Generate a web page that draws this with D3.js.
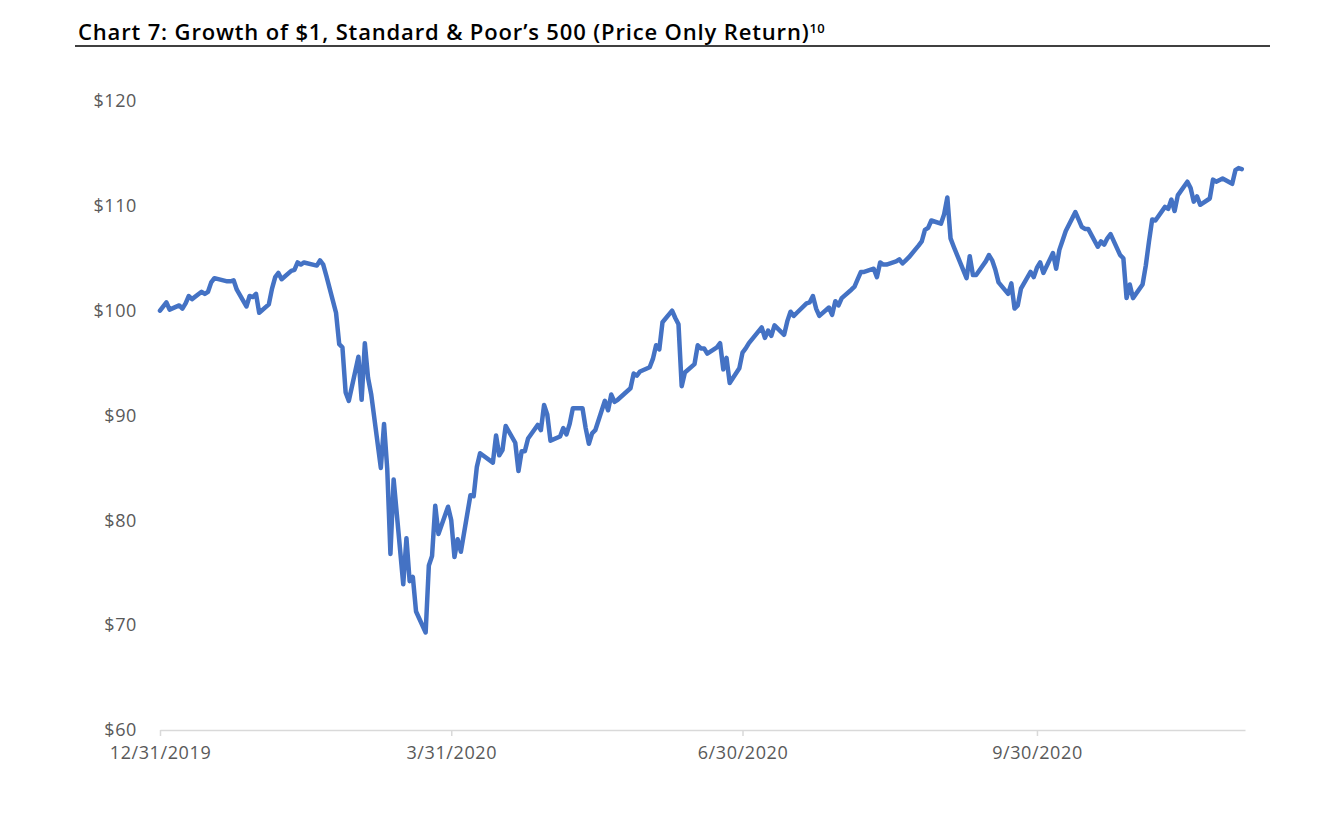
<!DOCTYPE html>
<meta charset="utf-8">
<script src="https://d3js.org/d3.v7.min.js"></script>

<style>
    body {
        margin: 0;
        background: #fff;
    }

    .title {
        font-family: "Open Sans", sans-serif;
        font-weight: 600;
        font-size: 22px;
        letter-spacing: 0.85px;
        fill: #000;
    }

    .tickText {
        font-family: "Open Sans", sans-serif;
        font-size: 18px;
        letter-spacing: 0.6px;
        fill: #595959;
    }
</style>

<svg id="chart" width="1342" height="813"></svg>

<script>
    // trading days and growth of $100 (S&P 500 price only)
    const dates = [
        "2019-12-31", "2020-01-02", "2020-01-03", "2020-01-06", "2020-01-07", "2020-01-08", "2020-01-09", "2020-01-10",
        "2020-01-13", "2020-01-14", "2020-01-15", "2020-01-16", "2020-01-17", "2020-01-21", "2020-01-22", "2020-01-23",
        "2020-01-24", "2020-01-27", "2020-01-28", "2020-01-29", "2020-01-30", "2020-01-31",
        "2020-02-03", "2020-02-04", "2020-02-05", "2020-02-06", "2020-02-07", "2020-02-10", "2020-02-11", "2020-02-12",
        "2020-02-13", "2020-02-14", "2020-02-18", "2020-02-19", "2020-02-20", "2020-02-21", "2020-02-24", "2020-02-25",
        "2020-02-26", "2020-02-27", "2020-02-28",
        "2020-03-02", "2020-03-03", "2020-03-04", "2020-03-05", "2020-03-06", "2020-03-09", "2020-03-10", "2020-03-11",
        "2020-03-12", "2020-03-13", "2020-03-16", "2020-03-17", "2020-03-18", "2020-03-19", "2020-03-20", "2020-03-23",
        "2020-03-24", "2020-03-25", "2020-03-26", "2020-03-27", "2020-03-30", "2020-03-31",
        "2020-04-01", "2020-04-02", "2020-04-03", "2020-04-06", "2020-04-07", "2020-04-08", "2020-04-09", "2020-04-13",
        "2020-04-14", "2020-04-15", "2020-04-16", "2020-04-17", "2020-04-20", "2020-04-21", "2020-04-22", "2020-04-23",
        "2020-04-24", "2020-04-27", "2020-04-28", "2020-04-29", "2020-04-30",
        "2020-05-01", "2020-05-04", "2020-05-05", "2020-05-06", "2020-05-07", "2020-05-08", "2020-05-11", "2020-05-12",
        "2020-05-13", "2020-05-14", "2020-05-15", "2020-05-18", "2020-05-19", "2020-05-20", "2020-05-21", "2020-05-22",
        "2020-05-26", "2020-05-27", "2020-05-28", "2020-05-29",
        "2020-06-01", "2020-06-02", "2020-06-03", "2020-06-04", "2020-06-05", "2020-06-08", "2020-06-09", "2020-06-10",
        "2020-06-11", "2020-06-12", "2020-06-15", "2020-06-16", "2020-06-17", "2020-06-18", "2020-06-19", "2020-06-22",
        "2020-06-23", "2020-06-24", "2020-06-25", "2020-06-26", "2020-06-29", "2020-06-30",
        "2020-07-01", "2020-07-02", "2020-07-06", "2020-07-07", "2020-07-08", "2020-07-09", "2020-07-10", "2020-07-13",
        "2020-07-14", "2020-07-15", "2020-07-16", "2020-07-17", "2020-07-20", "2020-07-21", "2020-07-22", "2020-07-23",
        "2020-07-24", "2020-07-27", "2020-07-28", "2020-07-29", "2020-07-30", "2020-07-31",
        "2020-08-03", "2020-08-04", "2020-08-05", "2020-08-06", "2020-08-07", "2020-08-10", "2020-08-11", "2020-08-12",
        "2020-08-13", "2020-08-14", "2020-08-17", "2020-08-18", "2020-08-19", "2020-08-20", "2020-08-21", "2020-08-24",
        "2020-08-25", "2020-08-26", "2020-08-27", "2020-08-28", "2020-08-31",
        "2020-09-01", "2020-09-02", "2020-09-03", "2020-09-04", "2020-09-08", "2020-09-09", "2020-09-10", "2020-09-11",
        "2020-09-14", "2020-09-15", "2020-09-16", "2020-09-17", "2020-09-18", "2020-09-21", "2020-09-22", "2020-09-23",
        "2020-09-24", "2020-09-25", "2020-09-28", "2020-09-29", "2020-09-30",
        "2020-10-01", "2020-10-02", "2020-10-05", "2020-10-06", "2020-10-07", "2020-10-08", "2020-10-09", "2020-10-12",
        "2020-10-13", "2020-10-14", "2020-10-15", "2020-10-16", "2020-10-19", "2020-10-20", "2020-10-21", "2020-10-22",
        "2020-10-23", "2020-10-26", "2020-10-27", "2020-10-28", "2020-10-29", "2020-10-30",
        "2020-11-02", "2020-11-03", "2020-11-04", "2020-11-05", "2020-11-06", "2020-11-09", "2020-11-10", "2020-11-11",
        "2020-11-12", "2020-11-13", "2020-11-16", "2020-11-17", "2020-11-18", "2020-11-19", "2020-11-20", "2020-11-23",
        "2020-11-24", "2020-11-25", "2020-11-27", "2020-11-30",
        "2020-12-01", "2020-12-02", "2020-12-03"
    ];

    const growth = [
        100.0, 100.8, 100.1, 100.5, 100.2, 100.7, 101.4, 101.1,
        101.8, 101.6, 101.8, 102.7, 103.1, 102.8, 102.8, 102.9,
        102.0, 100.4, 101.4, 101.3, 101.6, 99.8,
        100.6, 102.1, 103.2, 103.6, 103.0, 103.8, 103.9, 104.6,
        104.4, 104.6, 104.3, 104.8, 104.4, 103.3, 99.8, 96.8,
        96.5, 92.2, 91.4,
        95.6, 91.5, 96.9, 93.6, 92.0, 85.0, 89.2, 84.9,
        76.8, 83.9, 73.9, 78.3, 74.2, 74.6, 71.3, 69.3,
        75.7, 76.6, 81.4, 78.7, 81.3, 80.0,
        76.5, 78.2, 77.0, 82.4, 82.3, 85.1, 86.4, 85.5,
        88.1, 86.2, 86.7, 89.0, 87.4, 84.7, 86.6, 86.6,
        87.8, 89.1, 88.6, 91.0, 90.1,
        87.6, 88.0, 88.8, 88.2, 89.2, 90.7, 90.7, 88.8,
        87.3, 88.3, 88.6, 91.4, 90.5, 92.0, 91.3, 91.5,
        92.6, 94.0, 93.8, 94.2,
        94.6, 95.4, 96.7, 96.3, 98.9, 100.0, 99.3, 98.7,
        92.8, 94.1, 94.9, 96.7, 96.4, 96.4, 95.9, 96.5,
        96.9, 94.4, 95.5, 93.1, 94.5, 96.0,
        96.4, 96.9, 98.4, 97.4, 98.1, 97.6, 98.6, 97.7,
        99.0, 99.9, 99.5, 99.8, 100.7, 100.8, 101.4, 100.2,
        99.5, 100.3, 99.6, 100.9, 100.5, 101.2,
        102.0, 102.3, 103.0, 103.7, 103.7, 104.0, 103.2, 104.6,
        104.4, 104.4, 104.7, 104.9, 104.5, 104.8, 105.1, 106.2,
        106.6, 107.7, 107.9, 108.6, 108.3,
        109.2, 110.8, 106.9, 106.1, 103.1, 105.2, 103.4, 103.4,
        104.7, 105.3, 104.8, 103.9, 102.7, 101.6, 102.6, 100.2,
        100.5, 102.1, 103.7, 103.2, 104.1,
        104.6, 103.6, 105.5, 104.0, 105.8, 106.7, 107.6, 109.4,
        108.7, 108.0, 107.8, 107.8, 106.1, 106.6, 106.3, 106.9,
        107.3, 105.3, 105.0, 101.2, 102.5, 101.2,
        102.5, 104.3, 106.6, 108.7, 108.6, 109.9, 109.7, 110.6,
        109.5, 111.0, 112.3, 111.7, 110.4, 110.9, 110.1, 110.7,
        112.5, 112.3, 112.6, 112.1,
        113.4, 113.6, 113.5
    ];

    const yTicks = [60, 70, 80, 90, 100, 110, 120];
    const xTickLabels = ["12/31/2019", "3/31/2020", "6/30/2020", "9/30/2020"];

    const parse = d3.timeParse("%Y-%m-%d");
    const parseTick = d3.timeParse("%m/%d/%Y");
    const data = dates.map((d, i) => ({ date: parse(d), value: growth[i] }));

    const svg = d3.select("#chart");

    // title and rule under it
    const title = svg.append("text")
        .attr("class", "title")
        .attr("x", 78)
        .attr("y", 40);
    title.append("tspan").text("Chart 7: Growth of $1, Standard & Poor\u2019s 500 (Price Only Return)");
    title.append("tspan")
        .attr("font-size", "13px")
        .attr("letter-spacing", "0.3px")
        .attr("dy", -7)
        .text("10");

    svg.append("line")
        .attr("x1", 75)
        .attr("x2", 1270)
        .attr("y1", 46)
        .attr("y2", 46)
        .attr("stroke", "#000")
        .attr("stroke-width", 1.5);

    const x = d3.scaleTime()
        .domain([parse("2019-12-31"), parse("2020-12-04")])
        .range([160, 1245]);

    const y = d3.scaleLinear()
        .domain([60, 120])
        .range([730, 101]);

    // x axis
    const xAxis = svg.append("g")
        .attr("transform", "translate(0,730)")
        .call(d3.axisBottom(x)
            .tickValues(xTickLabels.map(parseTick))
            .tickFormat((d, i) => xTickLabels[i])
            .tickSize(6)
            .tickSizeOuter(0)
            .tickPadding(10));
    xAxis.select(".domain").attr("stroke", "#d9d9d9").attr("stroke-width", 1.5);
    xAxis.selectAll(".tick line").attr("stroke", "#d9d9d9").attr("stroke-width", 1.5);
    xAxis.selectAll(".tick text").attr("class", "tickText").attr("fill", null);

    // y axis, labels only
    const yAxis = svg.append("g")
        .attr("transform", "translate(160,0)")
        .call(d3.axisLeft(y)
            .tickValues(yTicks)
            .tickFormat(d => "$" + d)
            .tickSize(0)
            .tickPadding(23));
    yAxis.select(".domain").remove();
    yAxis.selectAll(".tick text").attr("class", "tickText").attr("fill", null);

    // the line
    svg.append("path")
        .datum(data)
        .attr("fill", "none")
        .attr("stroke", "#4472C4")
        .attr("stroke-width", 4.5)
        .attr("stroke-linejoin", "round")
        .attr("stroke-linecap", "round")
        .attr("d", d3.line()
            .x(d => x(d.date))
            .y(d => y(d.value)));
</script>
